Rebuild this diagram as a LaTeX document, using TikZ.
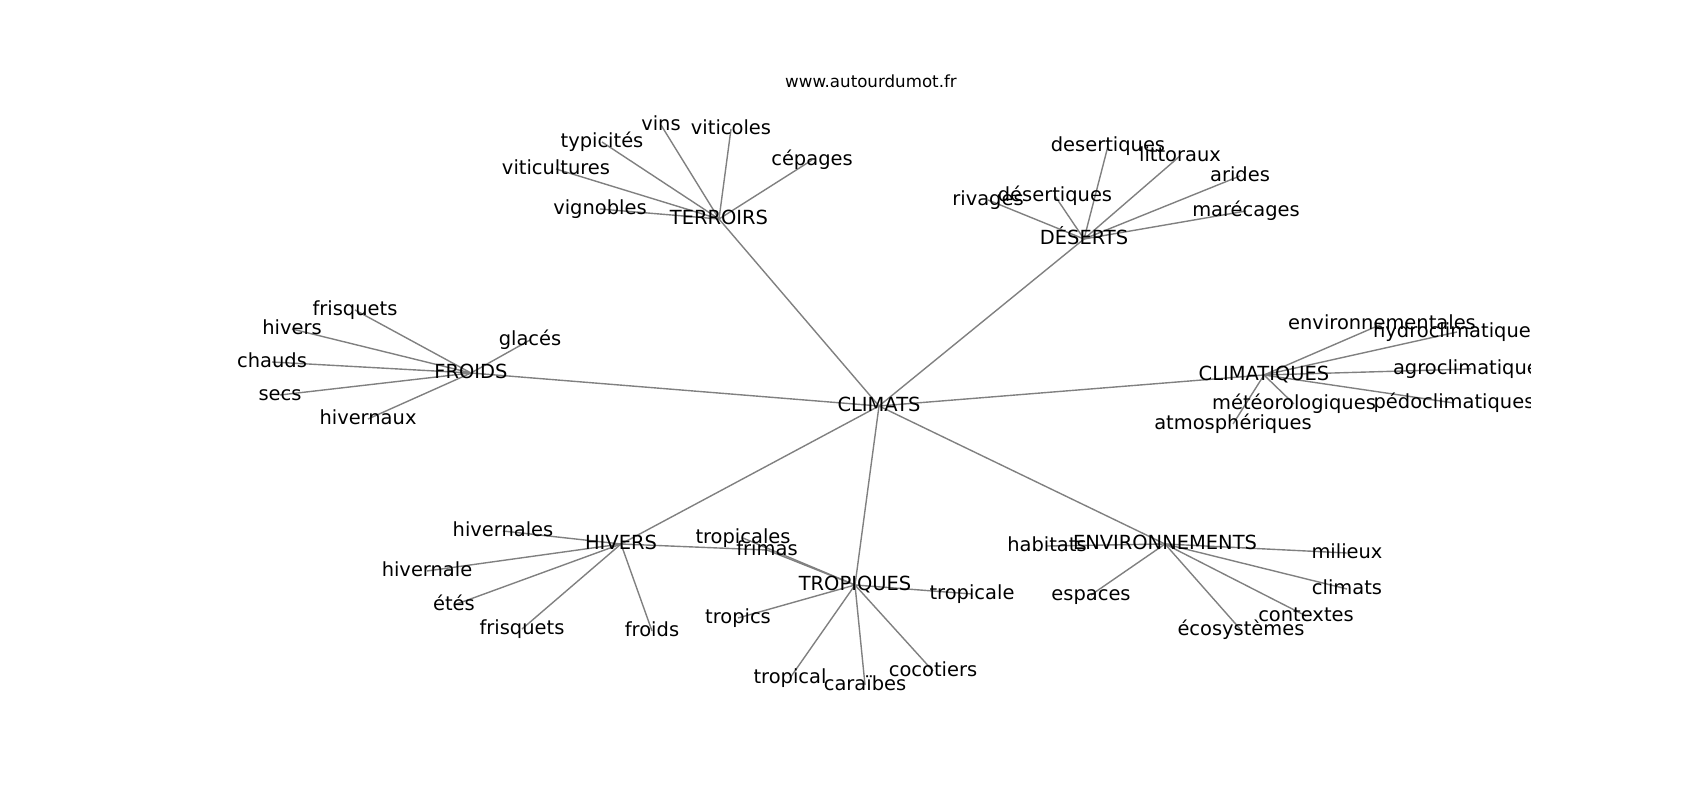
\documentclass[tikz,border=0pt]{standalone}
\usepackage{fontspec}
\setmainfont{DejaVu Sans}
\usetikzlibrary{backgrounds}

\begin{document}
\begin{tikzpicture}[x=0.01in, y=-0.01in,
  word/.style={inner sep=0pt, text height=10.6bp, text depth=2.9bp, font=\fontsize{14bp}{16bp}\selectfont},
  link/.style={gray, line width=1bp}]
\useasboundingbox (0,0) rectangle (1700,800);
\node[anchor=base, font=\fontsize{12bp}{14bp}\selectfont](site) at (871,88){www.autourdumot.fr};
\begin{scope}
\clip (212.5,96) rectangle (1530,712);
\node[word](climats) at (879,406){CLIMATS};
% terroirs
\node[word](terroirs) at (719,219){TERROIRS};
\node[word](vins) at (661,125){vins};
\node[word](viticoles) at (731,129){viticoles};
\node[word](typicites) at (602,142){typicités};
\node[word](viticultures) at (556,169){viticultures};
\node[word](vignobles) at (600,209){vignobles};
\node[word](cepages) at (812,160){cépages};
% deserts
\node[word](deserts) at (1084,239){DÉSERTS};
\node[word](desertiquesA) at (1108,146){desertiques};
\node[word](littoraux) at (1180,156){littoraux};
\node[word](arides) at (1240,176){arides};
\node[word](marecages) at (1246,211){marécages};
\node[word](desertiquesB) at (1055,196){désertiques};
\node[word](rivages) at (988,200){rivages};
% froids
\node[word](froids) at (471,373){FROIDS};
\node[word](frisquetsA) at (355,310){frisquets};
\node[word](hivers) at (292,329){hivers};
\node[word](chauds) at (272,362){chauds};
\node[word](secs) at (280,395){secs};
\node[word](hivernaux) at (368,419){hivernaux};
\node[word](glaces) at (530,340){glacés};
% climatiques
\node[word](climatiques) at (1264,375){CLIMATIQUES};
\node[word](environnementales) at (1382,324){environnementales};
\node[word](hydroclimatiques) at (1457,332){hydroclimatiques};
\node[word](agroclimatiques) at (1471,369){agroclimatiques};
\node[word](pedoclimatiques) at (1454,403){pédoclimatiques};
\node[word](meteorologiques) at (1294,404){météorologiques};
\node[word](atmospheriques) at (1233,424){atmosphériques};
% hivers
\node[word](hiversB) at (621,544){HIVERS};
\node[word](hivernales) at (503,531){hivernales};
\node[word](hivernale) at (427,571){hivernale};
\node[word](etes) at (454,605){étés};
\node[word](frisquetsB) at (522,629){frisquets};
\node[word](froidsB) at (652,631){froids};
\node[word](tropicales) at (743,538){tropicales};
\node[word](frimas) at (767,550){frimas};
% tropiques
\node[word](tropiques) at (855,585){TROPIQUES};
\node[word](tropicale) at (972,594){tropicale};
\node[word](tropics) at (738,618){tropics};
\node[word](tropical) at (790,678){tropical};
\node[word](caraibes) at (865,685){caraïbes};
\node[word](cocotiers) at (933,671){cocotiers};
% environnements
\node[word](environnements) at (1165,544){ENVIRONNEMENTS};
\node[word](habitats) at (1047,546){habitats};
\node[word](milieux) at (1347,553){milieux};
\node[word](climatsB) at (1347,589){climats};
\node[word](contextes) at (1306,616){contextes};
\node[word](ecosystemes) at (1241,630){écosystèmes};
\node[word](espaces) at (1091,595){espaces};
\end{scope}
\begin{pgfonlayer}{background}
\fill[white] (0,0) rectangle (1700,800);
\draw[link] (climats.center) -- (terroirs.center);
\draw[link] (climats.center) -- (deserts.center);
\draw[link] (climats.center) -- (froids.center);
\draw[link] (climats.center) -- (climatiques.center);
\draw[link] (climats.center) -- (hiversB.center);
\draw[link] (climats.center) -- (tropiques.center);
\draw[link] (climats.center) -- (environnements.center);
\draw[link] (terroirs.center) -- (vins.center);
\draw[link] (terroirs.center) -- (viticoles.center);
\draw[link] (terroirs.center) -- (typicites.center);
\draw[link] (terroirs.center) -- (viticultures.center);
\draw[link] (terroirs.center) -- (vignobles.center);
\draw[link] (terroirs.center) -- (cepages.center);
\draw[link] (deserts.center) -- (desertiquesA.center);
\draw[link] (deserts.center) -- (littoraux.center);
\draw[link] (deserts.center) -- (arides.center);
\draw[link] (deserts.center) -- (marecages.center);
\draw[link] (deserts.center) -- (desertiquesB.center);
\draw[link] (deserts.center) -- (rivages.center);
\draw[link] (froids.center) -- (frisquetsA.center);
\draw[link] (froids.center) -- (hivers.center);
\draw[link] (froids.center) -- (chauds.center);
\draw[link] (froids.center) -- (secs.center);
\draw[link] (froids.center) -- (hivernaux.center);
\draw[link] (froids.center) -- (glaces.center);
\draw[link] (climatiques.center) -- (environnementales.center);
\draw[link] (climatiques.center) -- (hydroclimatiques.center);
\draw[link] (climatiques.center) -- (agroclimatiques.center);
\draw[link] (climatiques.center) -- (pedoclimatiques.center);
\draw[link] (climatiques.center) -- (meteorologiques.center);
\draw[link] (climatiques.center) -- (atmospheriques.center);
\draw[link] (hiversB.center) -- (hivernales.center);
\draw[link] (hiversB.center) -- (hivernale.center);
\draw[link] (hiversB.center) -- (etes.center);
\draw[link] (hiversB.center) -- (frisquetsB.center);
\draw[link] (hiversB.center) -- (froidsB.center);
\draw[link] (hiversB.center) -- (frimas.center);
\draw[link] (frimas.center) -- (tropiques.center);
\draw[link] (tropicales.center) -- (tropiques.center);
\draw[link] (tropiques.center) -- (tropicale.center);
\draw[link] (tropiques.center) -- (tropics.center);
\draw[link] (tropiques.center) -- (tropical.center);
\draw[link] (tropiques.center) -- (caraibes.center);
\draw[link] (tropiques.center) -- (cocotiers.center);
\draw[link] (environnements.center) -- (habitats.center);
\draw[link] (environnements.center) -- (milieux.center);
\draw[link] (environnements.center) -- (climatsB.center);
\draw[link] (environnements.center) -- (contextes.center);
\draw[link] (environnements.center) -- (ecosystemes.center);
\draw[link] (environnements.center) -- (espaces.center);
\end{pgfonlayer}
\end{tikzpicture}
\end{document}
